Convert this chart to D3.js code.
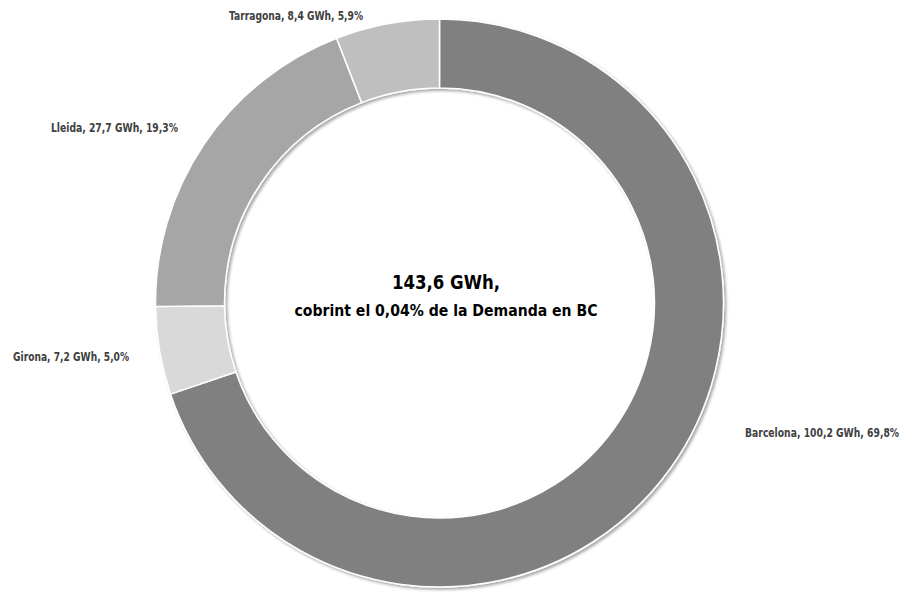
<!DOCTYPE html>
<html>
<head>
<meta charset="utf-8">
<script src="https://cdn.jsdelivr.net/npm/d3@7"></script>
<style>
  html, body { margin: 0; padding: 0; background: #fff; }
  svg { display: block; }
  text { font-family: "DejaVu Sans", sans-serif; font-stretch: condensed; font-weight: bold; }
</style>
</head>
<body>
<svg id="chart" width="905" height="593"></svg>
<script>
// ---- data ----
const categories = ["Barcelona", "Girona", "Lleida", "Tarragona"];
const valuesGWh = [100.2, 7.2, 27.7, 8.4];
const sharePct = [69.8, 5.0, 19.3, 5.9];
const totalLabel = "143,6 GWh,";
const subtitle = "cobrint el 0,04% de la Demanda en BC";
const colors = ["#808080", "#d9d9d9", "#a6a6a6", "#bfbfbf"];

// ---- layout ----
const W = 905, H = 593;
const cx = 439.5, cy = 303;
const outerR = 284, innerR = 215;
// label anchor offsets in units of outer radius, and target text widths
const labelLayout = [
  { dx: 1.076, dy: 0.472, anchor: "start", w: 154 },
  { dx: -1.093, dy: 0.204, anchor: "end", w: 116 },
  { dx: -0.921, dy: -0.602, anchor: "end", w: 127 },
  { dx: -0.505, dy: -0.996, anchor: "middle", w: 134 }
];

const fmt = v => String(v.toFixed(1)).replace(".", ",");

const svg = d3.select("#chart");
const defs = svg.append("defs");
const f = defs.append("filter").attr("id", "shadow")
  .attr("x", "-10%").attr("y", "-10%").attr("width", "120%").attr("height", "120%");
f.append("feDropShadow").attr("dx", 2).attr("dy", 2).attr("stdDeviation", 1.8)
  .attr("flood-color", "#000").attr("flood-opacity", 0.35);

const data = categories.map((c, i) => ({ name: c, value: valuesGWh[i], pct: sharePct[i], color: colors[i], i }));

const pie = d3.pie().value(d => d.pct).sort(null);
const arc = d3.arc().innerRadius(innerR).outerRadius(outerR);

const g = svg.append("g").attr("transform", `translate(${cx},${cy})`);
g.append("g").attr("filter", "url(#shadow)")
  .selectAll("path").data(pie(data)).join("path")
  .attr("d", arc)
  .attr("fill", d => d.data.color)
  .attr("stroke", "#fff")
  .attr("stroke-width", 1.5)
  .attr("stroke-linejoin", "round");

// labels
g.selectAll("text.lbl").data(data).join("text")
  .attr("class", "lbl")
  .attr("x", d => labelLayout[d.i].dx * outerR)
  .attr("y", d => labelLayout[d.i].dy * outerR)
  .attr("text-anchor", d => labelLayout[d.i].anchor)
  .attr("font-size", 12.5)
  .attr("fill", "#404040")
  .attr("textLength", d => labelLayout[d.i].w)
  .attr("lengthAdjust", "spacingAndGlyphs")
  .text(d => `${d.name}, ${fmt(d.value)} GWh, ${fmt(d.pct)}%`);

// center text
svg.append("text")
  .attr("x", 446).attr("y", 289)
  .attr("text-anchor", "middle")
  .attr("font-size", 19)
  .attr("fill", "#000")
  .attr("textLength", 108)
  .attr("lengthAdjust", "spacingAndGlyphs")
  .text(totalLabel);
svg.append("text")
  .attr("x", 446).attr("y", 316)
  .attr("text-anchor", "middle")
  .attr("font-size", 16.5)
  .attr("fill", "#000")
  .attr("textLength", 303)
  .attr("lengthAdjust", "spacingAndGlyphs")
  .text(subtitle);
</script>
</body>
</html>
